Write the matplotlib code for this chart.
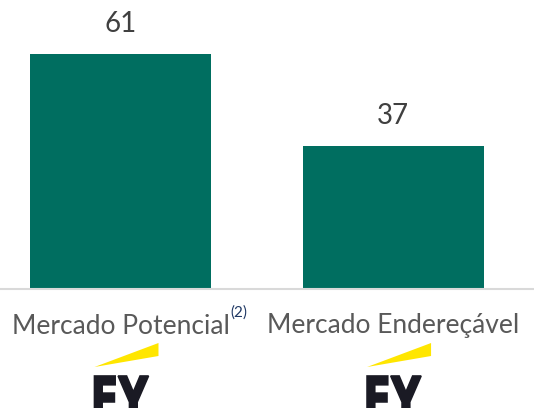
import matplotlib
matplotlib.use("Agg")
from matplotlib import pyplot as plt
from matplotlib import transforms
from matplotlib.textpath import TextPath
from matplotlib.patches import PathPatch, Polygon
from matplotlib.font_manager import FontProperties

plt.rcParams['font.family'] = ['Lato', 'DejaVu Sans']

# dados
categorias = ['Mercado Potencial', 'Mercado Endereçável']
valores = [61, 37]
notas = ['(2)', '']

verde = '#006E60'
cinza_texto = '#595959'

fig = plt.figure(figsize=(5.34, 4.08), dpi=100)
ax = fig.add_axes([0, 119 / 408, 1, 289 / 408])

x = list(range(len(categorias)))
barras = ax.bar(x, valores, width=0.664, color=verde)

ax.set_xlim(-0.442, 1.517)
ax.set_ylim(0, 75)

# rótulos de valor
for xi, v in zip(x, valores):
    ax.annotate(str(v), (xi, v), xytext=(0, 21.6), textcoords='offset points',
                ha='center', va='center', fontsize=20, color='#404040')

# eixo
for lado in ['top', 'right', 'left']:
    ax.spines[lado].set_visible(False)
ax.spines['bottom'].set_color('#D9D9D9')
ax.spines['bottom'].set_linewidth(1.5)
ax.set_xticks([])
ax.set_yticks([])

# nomes das categorias + nota
trans_cat = transforms.blended_transform_factory(ax.transData, fig.transFigure)
for xi, nome, nota in zip(x, categorias, notas):
    t = ax.text(xi, 1 - 326 / 408, nome, transform=trans_cat, ha='center', va='center',
                fontsize=19, color=cinza_texto, clip_on=False)
    if nota:
        ax.annotate(nota, xy=(1, 1), xycoords=t, xytext=(1, 1), textcoords='offset points',
                    ha='left', va='center', fontsize=11, color='#1F3864')

# logos EY
fig.canvas.draw()
fp = FontProperties(family='DejaVu Sans', weight='bold')
ey = TextPath((0, 0), 'EY', size=1, prop=fp)
bb = ey.get_extents()
for xi in x:
    cx = ax.transData.transform((xi, 0))[0]
    esq = cx - 26
    # raio amarelo
    fig.patches.append(Polygon([(esq, 408 - 367), (esq + 64, 408 - 343), (esq + 64, 408 - 356)],
                               closed=True, facecolor='#FFE600', edgecolor='none',
                               transform=transforms.IdentityTransform()))
    tr = (transforms.Affine2D().translate(-bb.x0, -bb.y1)
          .scale(54 / bb.width, 45 / bb.height)
          .translate(esq, 408 - 376))
    fig.patches.append(PathPatch(ey, facecolor='#1A1A24', edgecolor='#1A1A24', linewidth=1.2,
                                 transform=tr + transforms.IdentityTransform()))

fig.savefig('out.png', dpi=100)
